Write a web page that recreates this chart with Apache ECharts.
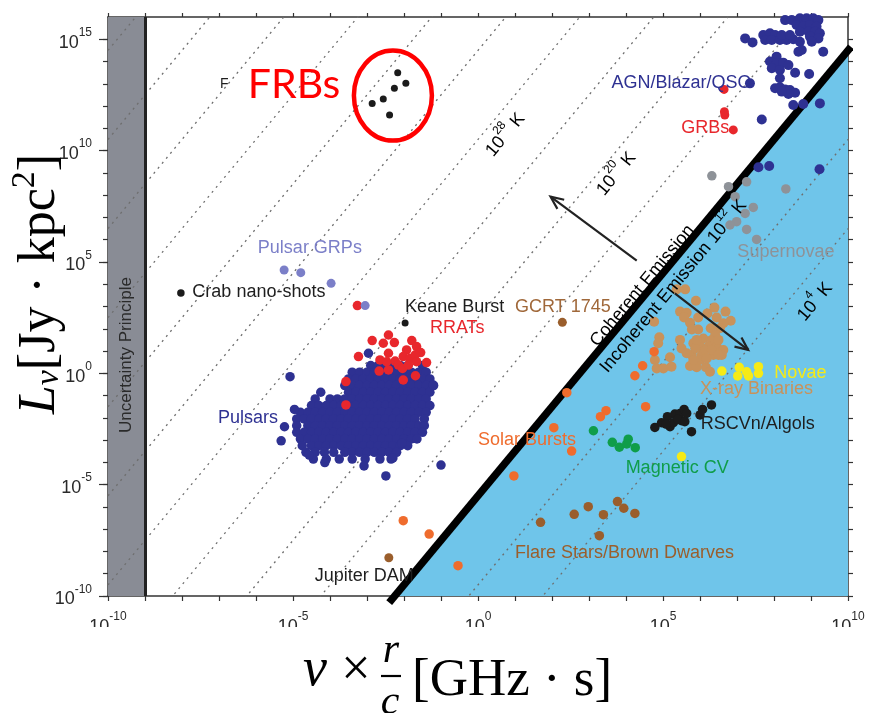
<!DOCTYPE html>
<html>
<head>
<meta charset="utf-8">
<script src="https://cdn.jsdelivr.net/npm/echarts@6/dist/echarts.min.js"></script>
<style>
  html, body { margin: 0; padding: 0; background: #ffffff; }
  #chart { width: 888px; height: 713px; }
</style>
</head>
<body>
<div id="chart"></div>
<script>
// All coordinates are decades: [log10(ν·r/c in GHz·s), log10(Lν in Jy·kpc²)]

const X_RANGE = [-10, 10];
const Y_RANGE = [-10, 16];
const xTickLabels = [-10, -5, 0, 5, 10];
const yTickLabels = [-10, -5, 0, 5, 10, 15];

// Lines of constant brightness temperature, log10(T / K)
const tempLines = [4, 8, 12, 16, 20, 24, 28, 32, 36, 40, 44, 48, 52];
// log Lν = log T + 2·log(ν·r/c) + TB_OFFSET
const TB_OFFSET = -17.5;
const coherenceLimit = 12;      // 10^12 K, coherent / incoherent boundary
const uncertaintyLimit = -9;    // ν·t < 1 region

// Pulsar population: rows of [log Lν, [log ν·r/c ...]]
const pulsarRows = [
  [0.9,  [-2.96]],
  [0.35, [-2.9, -2.7, -2.5, -2.3, -2.1, -1.9, -1.5]],
  [0.05, [-3.4, -3.2, -3.0, -2.8, -2.6, -2.4, -2.2, -2.0, -1.8, -1.6, -1.4]],
  [-0.25, [-3.5, -3.3, -3.1, -2.9, -2.7, -2.5, -2.3, -2.1, -1.9, -1.7, -1.5, -1.3]],
  [-0.55, [-3.6, -3.4, -3.2, -3.0, -2.8, -2.6, -2.4, -2.2, -2.0, -1.8, -1.6, -1.4, -1.2]],
  [-0.85, [-4.25, -3.5, -3.3, -3.1, -2.9, -2.7, -2.5, -2.3, -2.1, -1.9, -1.7, -1.5, -1.3]],
  [-1.15, [-4.4, -4.0, -3.8, -3.6, -3.4, -3.2, -3.0, -2.8, -2.6, -2.4, -2.2, -2.0, -1.8, -1.6, -1.4]],
  [-1.45, [-4.5, -4.3, -4.1, -3.9, -3.7, -3.5, -3.3, -3.1, -2.9, -2.7, -2.5, -2.3, -2.1, -1.9, -1.7, -1.5, -1.3]],
  [-1.75, [-4.8, -4.6, -4.4, -4.2, -4.0, -3.8, -3.6, -3.4, -3.2, -3.0, -2.8, -2.6, -2.4, -2.2, -2.0, -1.8, -1.6, -1.4]],
  [-2.05, [-4.9, -4.7, -4.5, -4.3, -4.1, -3.9, -3.7, -3.5, -3.3, -3.1, -2.9, -2.7, -2.5, -2.3, -2.1, -1.9, -1.7, -1.45]],
  [-2.35, [-4.9, -4.6, -4.4, -4.2, -4.0, -3.8, -3.6, -3.4, -3.2, -3.0, -2.8, -2.6, -2.4, -2.2, -2.0, -1.8, -1.6, -1.45]],
  [-2.65, [-4.9, -4.7, -4.5, -4.3, -4.1, -3.9, -3.7, -3.5, -3.3, -3.1, -2.9, -2.7, -2.5, -2.3, -2.1, -1.9, -1.7, -1.5]],
  [-2.95, [-4.8, -4.6, -4.4, -4.2, -4.0, -3.8, -3.6, -3.4, -3.2, -3.0, -2.8, -2.6, -2.4, -2.2, -2.0, -1.8, -1.65]],
  [-3.25, [-4.75, -4.5, -4.3, -4.1, -3.9, -3.7, -3.5, -3.3, -3.1, -2.9, -2.7, -2.5, -2.3, -2.1, -1.9]],
  [-3.55, [-4.65, -4.4, -4.15, -3.9, -3.6, -3.4, -3.2, -3.0, -2.8, -2.6, -2.4, -2.2]],
  [-3.85, [-4.45, -4.1, -3.75, -3.4, -3.05, -2.65, -2.35]]
];
const pulsarOutliers = [
  [-5.08, -0.15], [-4.96, -1.62], [-5.23, -2.4], [-5.32, -3.03],
  [-4.56, -3.67], [-4.14, -4.01], [-3.08, -4.16], [-2.49, -4.61],
  [-2.3, -3.8], [-2.06, -3.14], [-1.0, -4.12], [-1.21, -0.53]
];

const rrats = [
  [-3.26, 3.04], [-2.86, 1.47], [-2.56, 1.35], [-2.42, 1.72], [-2.26, 1.38],
  [-1.79, 1.47], [-1.66, 1.2], [-1.93, 1.05], [-1.55, 0.93], [-2.42, 0.9],
  [-3.23, 0.75], [-2.65, 0.6], [-2.24, 0.55], [-2.02, 0.75], [-1.84, 0.67],
  [-1.7, 0.82], [-2.15, 0.37], [-1.39, 0.48], [-2.67, 0.1], [-2.42, 0.15],
  [-2.04, 0.22], [-1.66, 0.52], [-3.57, -0.37], [-2.02, -0.3], [-1.69, -0.11],
  [-3.57, -1.42], [-2.47, 0.52], [-1.88, 0.37]
];
const pulsarGRPs = [[-5.24, 4.64], [-4.79, 4.52], [-3.97, 4.04], [-3.05, 3.04]];
const crabNanoShots = [[-8.03, 3.61]];
const keaneBurst = [[-1.97, 2.26]];
const frbs = [[-2.17, 13.5], [-1.95, 13.02], [-2.26, 12.8], [-2.56, 12.32], [-2.86, 12.12], [-2.39, 11.6]];
const gcrt1745 = [[2.28, 2.29]];
const jupiterDAM = [[-2.41, -8.28]];

const agn = [
  [8.3, 15.86], [8.48, 15.86], [8.7, 15.94], [8.88, 15.94], [9.06, 15.94], [9.2, 15.86],
  [8.61, 15.64], [8.79, 15.57], [8.97, 15.64], [9.15, 15.57], [8.7, 15.34], [8.93, 15.34],
  [9.11, 15.34], [9.24, 15.27], [8.97, 15.12], [9.2, 15.04], [9.02, 14.89], [7.22, 15.04],
  [7.42, 14.86], [7.71, 15.19], [7.89, 15.27], [8.03, 15.19], [7.76, 14.97], [7.94, 14.97],
  [8.16, 14.97], [8.34, 14.97], [8.52, 15.0], [8.7, 14.89], [8.21, 15.19], [8.43, 15.19],
  [8.75, 14.52], [8.66, 14.44], [9.33, 14.44], [8.07, 14.22], [7.89, 14.0], [8.07, 13.92],
  [8.25, 13.95], [8.39, 13.84], [7.94, 13.7], [8.16, 13.62], [8.57, 13.5], [8.95, 13.44],
  [8.16, 13.25], [8.03, 12.8], [8.16, 12.84], [8.3, 12.75], [8.43, 12.72], [8.57, 12.6],
  [8.39, 12.54], [8.21, 12.65], [7.35, 13.02], [8.52, 12.05], [8.79, 12.09], [9.24, 12.12],
  [7.67, 11.4], [7.58, 9.25], [7.87, 9.31], [9.23, 9.16]
];
const grbs = [[6.65, 12.75], [6.67, 11.6], [6.66, 11.75], [6.9, 10.93]];
const supernovae = [
  [6.32, 8.87], [7.26, 8.6], [6.77, 8.38], [6.95, 7.93], [7.44, 7.45], [7.22, 7.18],
  [6.99, 6.81], [6.81, 6.66], [7.26, 6.46], [7.53, 6.01], [8.32, 8.28]
];
const xrayBinaries = [
  [5.37, 3.77], [5.6, 3.77], [5.89, 3.26], [5.46, 2.77], [5.64, 2.72], [5.57, 2.51],
  [4.76, 2.32], [5.73, 2.27], [5.95, 2.51], [6.2, 2.69], [6.39, 2.95], [6.69, 2.77],
  [6.83, 2.36], [6.45, 2.51], [6.63, 2.25], [5.78, 1.97], [5.95, 1.97], [6.29, 2.02],
  [6.54, 2.02], [6.41, 1.72], [4.9, 1.62], [4.87, 1.35], [5.46, 1.5], [5.82, 1.35],
  [6.09, 1.56], [6.32, 1.5], [6.0, 1.23], [6.23, 1.2], [6.45, 1.2], [6.63, 1.05],
  [5.5, 1.12], [5.19, 0.72], [4.78, 0.6], [5.78, 0.82], [6.05, 0.82], [6.36, 0.82],
  [6.59, 0.82], [5.73, 0.33], [5.91, 0.27], [6.16, 0.27], [6.27, 0.07], [4.83, 0.22],
  [5.01, 0.22], [5.23, 0.3], [6.0, 0.6], [6.14, 1.05], [5.87, 1.12], [5.64, 0.9],
  [6.18, 0.67], [5.91, 1.5], [6.5, 1.5], [6.32, 1.05], [6.5, 0.82], [5.82, 0.6]
];
const novae = [
  [6.59, 0.1], [7.06, 0.27], [7.02, -0.12], [7.26, 0.07], [7.31, -0.12],
  [7.58, 0.3], [7.58, 0.0], [5.5, -3.74]
];
const rscvnAlgols = [
  [4.78, -2.43], [4.96, -2.22], [5.12, -1.95], [5.19, -2.4], [5.32, -1.83], [5.46, -1.8],
  [5.57, -1.62], [5.64, -1.8], [5.28, -2.22], [5.5, -2.13], [5.77, -2.62], [6.0, -1.87],
  [6.07, -1.62], [6.31, -1.42], [5.08, -2.28], [5.4, -2.07], [5.59, -2.17]
];
const magneticCV = [[3.12, -2.58], [3.63, -3.1], [3.82, -3.32], [4.06, -2.96], [4.25, -3.34], [4.02, -3.17]];
const solarBursts = [
  [4.53, -1.5], [3.46, -1.68], [3.31, -1.95], [2.05, -2.44], [2.53, -3.49], [0.97, -4.61],
  [-2.02, -6.62], [-1.32, -7.22], [-0.54, -8.64], [2.4, -0.87], [4.76, 0.97], [4.45, 0.34],
  [4.24, -0.11]
];
const flareStars = [
  [1.69, -6.69], [2.6, -6.33], [2.98, -5.99], [3.39, -6.35], [3.28, -7.29],
  [3.77, -5.76], [3.94, -6.06], [4.24, -6.29]
];

const SANS = '"Liberation Sans", Arial, Helvetica, sans-serif';
const SERIF = '"Liberation Serif", "Times New Roman", serif';

const COLORS = {
  navy: '#2e3192', red: '#e8272c', lavender: '#7b7fc8', black: '#1b1b1b',
  gray: '#8e9298', tan: '#c8925b', yellow: '#f6ea17', green: '#0f9d4a',
  orange: '#ef6c2d', brown: '#9a5e2c', sky: '#6fc5ea', band: '#898c95'
};

const tb = (logT, lx) => logT + 2 * lx + TB_OFFSET;
const decades = (a, b) => { const r = []; for (let v = a; v <= b; v++) r.push(v); return r; };
const pulsars = pulsarRows.flatMap(([ly, xs]) => xs.map(lx => [lx, ly])).concat(pulsarOutliers);

const powerRich = {
  b: { fontSize: 18, fontFamily: SANS, color: '#2a2a2a', lineHeight: 25, verticalAlign: 'bottom' },
  s: { fontSize: 12, fontFamily: SANS, color: '#2a2a2a', lineHeight: 14, verticalAlign: 'top' }
};
const powerLabel = v => '{b|10}{s|' + v + '}';

const axisLineStyle = { color: '#333333', width: 1.5 };
const tickStyle = { color: '#333333', width: 1.2 };

function scatter(name, data, color, size, z) {
  return {
    name, type: 'scatter', data, symbolSize: size, z: z || 5,
    itemStyle: { color, opacity: 1 }, silent: true, animation: false
  };
}

const x0 = (Y_RANGE[0] - coherenceLimit - TB_OFFSET) / 2;

const series = [
  {
    // incoherent emission region below the 10^12 K limit
    type: 'line', z: 1, symbol: 'none', silent: true, animation: false,
    data: [[x0, Y_RANGE[0]], [X_RANGE[1], tb(coherenceLimit, X_RANGE[1])]],
    lineStyle: { width: 0 },
    areaStyle: { color: COLORS.sky, opacity: 1, origin: 'start' },
    markArea: {
      silent: true,
      itemStyle: { color: COLORS.band, opacity: 1 },
      data: [[{ xAxis: X_RANGE[0] }, { xAxis: uncertaintyLimit }]]
    },
    markLine: {
      silent: true, symbol: 'none', label: { show: false },
      lineStyle: { color: '#222222', width: 3, type: 'solid' },
      data: [{ xAxis: uncertaintyLimit }]
    }
  }
];

tempLines.forEach(t => {
  series.push({
    type: 'line', z: 3, symbol: 'none', silent: true, animation: false,
    data: [[X_RANGE[0], tb(t, X_RANGE[0])], [X_RANGE[1], tb(t, X_RANGE[1])]],
    lineStyle: { color: '#6e6e6e', width: 1.3, type: [2, 4.5] }
  });
});

// heavy coherence boundary, running a little past the frame
series.push({
  type: 'line', z: 4, symbol: 'none', silent: true, animation: false, clip: false,
  data: [[-2.4, tb(coherenceLimit, -2.4)], [10.08, tb(coherenceLimit, 10.08)]],
  lineStyle: { color: '#000000', width: 7.5, cap: 'butt' }
});

series.push(
  scatter('Pulsars', pulsars, COLORS.navy, 9.5),
  scatter('RRATs', rrats, COLORS.red, 9.5, 6),
  scatter('Pulsar GRPs', pulsarGRPs, COLORS.lavender, 9, 6),
  scatter('Crab nano-shots', crabNanoShots, COLORS.black, 7.5),
  scatter('Keane Burst', keaneBurst, COLORS.black, 7),
  scatter('FRBs', frbs, COLORS.black, 7),
  scatter('GCRT 1745', gcrt1745, COLORS.brown, 9),
  scatter('Jupiter DAM', jupiterDAM, COLORS.brown, 9),
  scatter('AGN/Blazar/QSO', agn, COLORS.navy, 10),
  scatter('GRBs', grbs, COLORS.red, 9),
  scatter('Supernovae', supernovae, COLORS.gray, 9.5),
  scatter('X-ray Binaries', xrayBinaries, COLORS.tan, 10),
  scatter('Novae', novae, COLORS.yellow, 9.5),
  scatter('RSCVn/Algols', rscvnAlgols, COLORS.black, 9.5),
  scatter('Magnetic CV', magneticCV, COLORS.green, 9.5),
  scatter('Solar Bursts', solarBursts, COLORS.orange, 9.5),
  scatter('Flare Stars/Brown Dwarves', flareStars, COLORS.brown, 9.5)
);

const hiddenLabels = { show: false };
const option = {
  backgroundColor: '#ffffff',
  animation: false,
  grid: { left: 108, top: 17, right: 40, bottom: 117, containLabel: false },
  xAxis: [
    {
      type: 'value', min: X_RANGE[0], max: X_RANGE[1], position: 'bottom',
      axisLine: { onZero: false, lineStyle: axisLineStyle },
      axisTick: { customValues: decades(X_RANGE[0], X_RANGE[1]), length: 5, lineStyle: tickStyle },
      axisLabel: { customValues: xTickLabels, formatter: powerLabel, margin: 15, rich: powerRich },
      splitLine: { show: false }
    },
    {
      type: 'value', min: X_RANGE[0], max: X_RANGE[1], position: 'top',
      axisLine: { onZero: false, lineStyle: axisLineStyle },
      axisTick: { customValues: decades(X_RANGE[0], X_RANGE[1]), length: 4, lineStyle: tickStyle },
      axisLabel: hiddenLabels, splitLine: { show: false }
    }
  ],
  yAxis: [
    {
      type: 'value', min: Y_RANGE[0], max: Y_RANGE[1], position: 'left',
      axisLine: { onZero: false, lineStyle: axisLineStyle },
      axisTick: { customValues: decades(Y_RANGE[0], Y_RANGE[1] - 1), length: 5, lineStyle: tickStyle },
      axisLabel: { customValues: yTickLabels, formatter: powerLabel, margin: 16, rich: powerRich },
      splitLine: { show: false }
    },
    {
      type: 'value', min: Y_RANGE[0], max: Y_RANGE[1], position: 'right',
      axisLine: { onZero: false, lineStyle: axisLineStyle },
      axisTick: { customValues: decades(Y_RANGE[0], Y_RANGE[1] - 1), length: 5, lineStyle: tickStyle },
      axisLabel: hiddenLabels, splitLine: { show: false }
    },
    {
      // longer ticks at the labelled decades
      type: 'value', min: Y_RANGE[0], max: Y_RANGE[1], position: 'left',
      axisLine: { show: false, onZero: false },
      axisTick: { customValues: yTickLabels, length: 9, lineStyle: tickStyle },
      axisLabel: hiddenLabels, splitLine: { show: false }
    }
  ],
  series
};

const chart = echarts.init(document.getElementById('chart'), null, { renderer: 'canvas' });
chart.setOption(option);

const toPx = (lx, ly) => chart.convertToPixel({ xAxisIndex: 0, yAxisIndex: 0 }, [lx, ly]);
const SLOPE_ANGLE = Math.atan2(
  toPx(0, 0)[1] - toPx(1, 2)[1],
  toPx(1, 2)[0] - toPx(0, 0)[0]
);

// Group labels, anchored by their left edge (data coordinates)
const groupLabels = [
  { text: 'Pulsar GRPs', at: [-5.95, 5.63], color: COLORS.lavender },
  { text: 'Crab nano-shots', at: [-7.72, 3.63], color: '#1e1e1e' },
  { text: 'Keane Burst', at: [-1.97, 2.98], color: '#1e1e1e' },
  { text: 'RRATs', at: [-1.3, 2.02], color: COLORS.red },
  { text: 'GCRT 1745', at: [1.0, 2.96], color: '#a0683a' },
  { text: 'Pulsars', at: [-7.03, -2.0], color: COLORS.navy },
  { text: 'Solar Bursts', at: [0.0, -3.0], color: COLORS.orange },
  { text: 'Magnetic CV', at: [3.99, -4.27], color: COLORS.green },
  { text: 'Flare Stars/Brown Dwarves', at: [1.0, -8.08], color: COLORS.brown },
  { text: 'Jupiter DAM', at: [-4.41, -9.1], color: '#1e1e1e' },
  { text: 'AGN/Blazar/QSO', at: [3.61, 13.02], color: COLORS.navy },
  { text: 'GRBs', at: [5.49, 11.0], color: COLORS.red },
  { text: 'Supernovae', at: [7.01, 5.46], color: COLORS.gray },
  { text: 'Novae', at: [8.01, 0.0], color: COLORS.yellow },
  { text: 'X-ray Binaries', at: [6.0, -0.7], color: COLORS.tan },
  { text: 'RSCVn/Algols', at: [6.02, -2.29], color: '#1e1e1e' }
];

// Texts running along the temperature lines (centre, data coordinates)
const slopedLabels = [
  { text: '{n|10}{s|28}{n| K}', at: [0.68, 10.79] },
  { text: '{n|10}{s|20}{n| K}', at: [3.68, 9.04] },
  { text: '{n|Coherent Emission}', at: [4.38, 4.01] },
  { text: '{n|Incoherent Emission 10}{s|12}{n| K}', at: [5.22, 3.99] },
  { text: '{n|10}{s|4}{n| K}', at: [9.05, 3.29] }
];

// Arrows: [from, to]
const arrows = [
  [[4.29, 5.06], [1.96, 7.93]],
  [[5.32, 3.59], [7.3, 1.05]]
];

const graphic = [];

// the figure is trimmed just under the x tick labels
graphic.push({
  type: 'rect', silent: true, z: 10,
  shape: { x: 0, y: 627, width: 888, height: 90 },
  style: { fill: '#ffffff' }
});

groupLabels.forEach(l => {
  const p = toPx(l.at[0], l.at[1]);
  graphic.push({
    type: 'text', x: p[0], y: p[1], silent: true, z: 20,
    style: { text: l.text, fill: l.color, fontSize: 18, fontFamily: SANS, align: 'left', verticalAlign: 'middle' }
  });
});

const slopeRich = {
  n: { fontSize: 18, fontFamily: SANS, color: '#262626', lineHeight: 24, verticalAlign: 'bottom' },
  s: { fontSize: 12, fontFamily: SANS, color: '#262626', lineHeight: 13, verticalAlign: 'top' }
};
slopedLabels.forEach(l => {
  const p = toPx(l.at[0], l.at[1]);
  graphic.push({
    type: 'text', x: p[0], y: p[1], rotation: SLOPE_ANGLE, silent: true, z: 20,
    style: { text: l.text, rich: slopeRich, align: 'center', verticalAlign: 'middle' }
  });
});

// Uncertainty principle band caption
{
  const p = toPx(-9.51, 0.82);
  graphic.push({
    type: 'text', x: p[0], y: p[1], rotation: Math.PI / 2, silent: true, z: 20,
    style: { text: 'Uncertainty Principle', fill: '#2a2a2a', fontSize: 17, fontFamily: SANS, align: 'center', verticalAlign: 'middle' }
  });
}

arrows.forEach(([a, b]) => {
  const p0 = toPx(a[0], a[1]);
  const p1 = toPx(b[0], b[1]);
  const ang = Math.atan2(p0[1] - p1[1], p0[0] - p1[0]);
  const head = 14, spread = 0.42;
  graphic.push({
    type: 'polyline', silent: true, z: 19,
    shape: { points: [p0, p1] },
    style: { stroke: '#222222', lineWidth: 2.2, fill: null }
  });
  graphic.push({
    type: 'polyline', silent: true, z: 19,
    shape: { points: [
      [p1[0] + head * Math.cos(ang + spread), p1[1] + head * Math.sin(ang + spread)],
      p1,
      [p1[0] + head * Math.cos(ang - spread), p1[1] + head * Math.sin(ang - spread)]
    ] },
    style: { stroke: '#222222', lineWidth: 2.2, fill: null }
  });
});

// FRB highlight
{
  const c = toPx(-2.3, 12.47);
  graphic.push({
    type: 'ellipse', silent: true, z: 21,
    shape: { cx: c[0], cy: c[1], rx: 39, ry: 45 },
    style: { fill: null, stroke: '#ff0000', lineWidth: 4.5 }
  });
  const f = toPx(-6.97, 12.99);
  graphic.push({
    type: 'text', x: f[0], y: f[1], silent: true, z: 20,
    style: { text: 'F', fill: '#1e1e1e', fontSize: 14, fontFamily: SANS, align: 'left', verticalAlign: 'middle' }
  });
  const t = toPx(-6.22, 12.95);
  graphic.push({
    type: 'text', x: t[0], y: t[1], silent: true, z: 21,
    style: { text: 'FRBs', fill: '#ff0000', fontSize: 41, fontFamily: 'Lato, "Open Sans", sans-serif', align: 'left', verticalAlign: 'middle' }
  });
}

// Axis titles
graphic.push({
  type: 'text', x: 37, y: 284, rotation: Math.PI / 2, silent: true, z: 20,
  style: {
    text: '{i|L}{sub|ν}{n|[Jy · kpc}{sup|2}{n|]}',
    align: 'center', verticalAlign: 'middle',
    rich: {
      i: { fontFamily: SERIF, fontStyle: 'italic', fontSize: 52, color: '#000', lineHeight: 58, verticalAlign: 'bottom' },
      sub: { fontFamily: SERIF, fontStyle: 'italic', fontSize: 34, color: '#000', lineHeight: 34, verticalAlign: 'bottom' },
      n: { fontFamily: SERIF, fontSize: 52, color: '#000', lineHeight: 58, verticalAlign: 'bottom' },
      sup: { fontFamily: SERIF, fontSize: 34, color: '#000', lineHeight: 36, verticalAlign: 'top' }
    }
  }
});
graphic.push({
  type: 'text', x: 303, y: 671, silent: true, z: 20,
  style: { text: 'ν', fill: '#000', fontFamily: SERIF, fontStyle: 'italic', fontSize: 54, align: 'left', verticalAlign: 'middle' }
});
graphic.push({
  type: 'text', x: 356, y: 671, silent: true, z: 20,
  style: { text: '×', fill: '#000', fontFamily: SERIF, fontSize: 52, align: 'center', verticalAlign: 'middle' }
});
graphic.push({
  type: 'text', x: 391, y: 651, silent: true, z: 20,
  style: { text: 'r', fill: '#000', fontFamily: SERIF, fontStyle: 'italic', fontSize: 42, align: 'center', verticalAlign: 'middle' }
});
graphic.push({
  type: 'line', silent: true, z: 20,
  shape: { x1: 381, y1: 676, x2: 401, y2: 676 },
  style: { stroke: '#000', lineWidth: 2.2 }
});
graphic.push({
  type: 'text', x: 390, y: 703, silent: true, z: 20,
  style: { text: 'c', fill: '#000', fontFamily: SERIF, fontStyle: 'italic', fontSize: 42, align: 'center', verticalAlign: 'middle' }
});
graphic.push({
  type: 'text', x: 412, y: 681, silent: true, z: 20,
  style: { text: '[GHz · s]', fill: '#000', fontFamily: SERIF, fontSize: 53, align: 'left', verticalAlign: 'middle' }
});

chart.setOption({ graphic });
</script>
</body>
</html>
